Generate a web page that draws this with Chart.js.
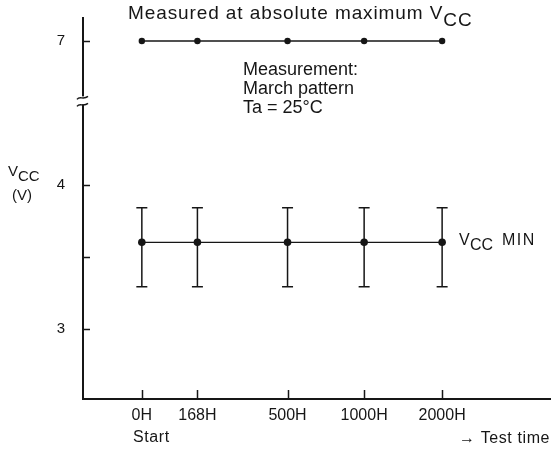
<!DOCTYPE html>
<html><head><meta charset="utf-8">
<script src="https://cdn.jsdelivr.net/npm/chart.js@4.4.1/dist/chart.umd.min.js"></script>
<style>html,body{margin:0;padding:0;background:#fff}#wrap{width:554px;height:449px}</style>
</head><body><div id="wrap"><canvas id="c" width="554" height="449"></canvas></div>
<script>
// ---- data ----
const timeLabels = ['0H', '168H', '500H', '1000H', '2000H'];
const timeAxisPos = [12.6, 24.5, 43.8, 60.2, 76.9];      // schematic (non-proportional) time axis
const vccMaxValues = [7, 7, 7, 7, 7];                     // measured at absolute maximum Vcc
const vccMinMean = [3.6, 3.6, 3.6, 3.6, 3.6];             // Vcc MIN
const vccMinUpper = [3.84, 3.84, 3.84, 3.84, 3.84];
const vccMinLower = [3.29, 3.29, 3.29, 3.29, 3.29];
const yTickValues = [3, 3.5, 4, 7];
const yTickLabels = ['3', '', '4', '7'];
const breakFrom = 4.5, breakShift = 2;                     // broken y axis: values above 4.5 V shifted down
const disp = v => (v > breakFrom ? v - breakShift : v);

const INK = '#161616';
const FONT = '"Liberation Sans", Arial, sans-serif';

const extras = {
  id: 'extras',
  beforeDatasetsDraw(chart) {
    const ctx = chart.ctx, xs = chart.scales.x, ys = chart.scales.y;
    ctx.save();
    ctx.strokeStyle = INK; ctx.lineWidth = 1.5;
    timeAxisPos.forEach((t, i) => {
      const x = xs.getPixelForValue(t);
      const yu = ys.getPixelForValue(disp(vccMinUpper[i]));
      const yl = ys.getPixelForValue(disp(vccMinLower[i]));
      ctx.beginPath();
      ctx.moveTo(x, yu); ctx.lineTo(x, yl);
      ctx.moveTo(x - 5.5, yu); ctx.lineTo(x + 5.5, yu);
      ctx.moveTo(x - 5.5, yl); ctx.lineTo(x + 5.5, yl);
      ctx.stroke();
    });
    ctx.restore();
  },
  afterDraw(chart) {
    const ctx = chart.ctx, xs = chart.scales.x, ys = chart.scales.y;
    const a = chart.chartArea;
    ctx.save();
    ctx.strokeStyle = INK; ctx.fillStyle = INK; ctx.lineWidth = 1.5;
    // inward tick marks
    yTickValues.forEach(v => {
      const y = Math.round(ys.getPixelForValue(disp(v))) + 0.5;
      ctx.beginPath(); ctx.moveTo(a.left, y); ctx.lineTo(a.left + 7, y); ctx.stroke();
    });
    timeAxisPos.forEach(t => {
      const x = Math.round(xs.getPixelForValue(t)) + 0.5;
      ctx.beginPath(); ctx.moveTo(x, a.bottom); ctx.lineTo(x, a.bottom - 9); ctx.stroke();
    });
    // axis break symbol
    const yb = ys.getPixelForValue(4.58);
    ctx.fillStyle = '#fff';
    ctx.fillRect(a.left - 3, yb - 5, 6, 8);
    ctx.fillStyle = INK;
    [yb - 3, yb + 4].forEach(y0 => {
      ctx.beginPath();
      ctx.moveTo(a.left - 6, y0 + 1);
      ctx.bezierCurveTo(a.left - 3, y0 - 3, a.left, y0 + 2, a.left + 5, y0 - 2);
      ctx.stroke();
    });
    // texts
    ctx.textBaseline = 'alphabetic'; ctx.textAlign = 'left';
    ctx.font = '19px ' + FONT;
    ctx.letterSpacing = '0.9px';
    const t1 = 'Measured at absolute maximum V';
    ctx.fillText(t1, 128, 19);
    ctx.fillText('CC', 128 + ctx.measureText(t1).width, 26);
    ctx.letterSpacing = '0px';
    ctx.font = '18px ' + FONT;
    ctx.fillText('Measurement:', 243, 75);
    ctx.fillText('March pattern', 243, 94);
    ctx.fillText('Ta = 25\u00B0C', 243, 113);
    // Vcc MIN label
    ctx.font = '16px ' + FONT;
    ctx.fillText('V', 459, 245);
    ctx.fillText('CC', 470, 250);
    ctx.letterSpacing = '1.5px';
    ctx.fillText('MIN', 502, 245);
    ctx.letterSpacing = '0px';
    // y-axis title
    ctx.font = '15px ' + FONT;
    ctx.fillText('V', 8, 176);
    ctx.fillText('CC', 18, 181);
    ctx.fillText('(V)', 12, 200);
    // x-axis notes
    ctx.font = '16px ' + FONT;
    ctx.letterSpacing = '0.6px';
    ctx.fillText('Start', 133, 442);
    ctx.fillText('\u2192 Test time', 459, 443);
    ctx.restore();
  }
};

new Chart(document.getElementById('c'), {
  type: 'line',
  data: {
    datasets: [
      {
        label: 'Absolute maximum VCC',
        data: timeAxisPos.map((t, i) => ({ x: t, y: disp(vccMaxValues[i]) })),
        borderColor: INK, backgroundColor: INK, borderWidth: 1.3,
        pointRadius: 3.2, pointBorderWidth: 0, pointBackgroundColor: INK
      },
      {
        label: 'VCC MIN',
        data: timeAxisPos.map((t, i) => ({ x: t, y: disp(vccMinMean[i]) })),
        borderColor: INK, backgroundColor: INK, borderWidth: 1.3,
        pointRadius: 3.8, pointBorderWidth: 0, pointBackgroundColor: INK
      }
    ]
  },
  options: {
    responsive: false, animation: false,
    layout: { padding: { left: 0, right: 3, top: 18, bottom: 0 } },
    plugins: { legend: { display: false }, tooltip: { enabled: false }, title: { display: false } },
    scales: {
      x: {
        type: 'linear', min: 0, max: 100,
        afterBuildTicks: s => { s.ticks = timeAxisPos.map(v => ({ value: v })); },
        afterFit: s => { s.height = 50; s.paddingLeft = 0; s.paddingRight = 0; },
        grid: { display: false, drawTicks: false },
        border: { display: true, color: INK, width: 2 },
        ticks: {
          autoSkip: false, maxRotation: 0, padding: 7, color: INK,
          font: { family: FONT, size: 16 },
          callback: (v, i) => timeLabels[i]
        }
      },
      y: {
        type: 'linear', min: 2.51, max: 5.16,
        afterBuildTicks: s => { s.ticks = yTickValues.map(v => ({ value: disp(v) })); },
        afterFit: s => { s.width = 83; s.paddingTop = 0; s.paddingBottom = 0; },
        grid: { display: false, drawTicks: false },
        border: { display: true, color: INK, width: 2 },
        ticks: {
          autoSkip: false, padding: 18, color: INK,
          font: { family: FONT, size: 15 },
          callback: (v, i) => yTickLabels[i]
        }
      }
    }
  },
  plugins: [extras]
});
</script>
</body></html>
